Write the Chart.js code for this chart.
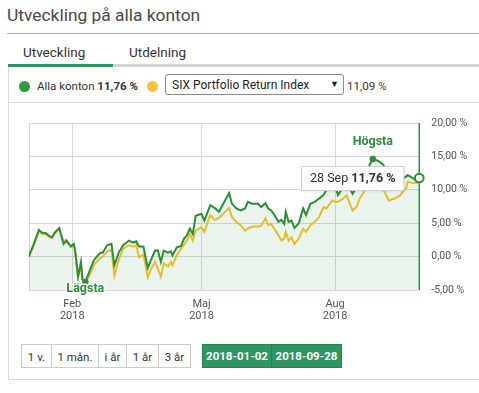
<!DOCTYPE html>
<html><head><meta charset="utf-8">
<script src="https://cdn.jsdelivr.net/npm/chart.js@4.4.1/dist/chart.umd.min.js"></script>
<style>
body{margin:0;width:479px;height:393px;overflow:hidden;background:#fff;font-family:Roboto,sans-serif;position:relative;color:#333}
.a{position:absolute;white-space:nowrap}
.btn{position:absolute;top:344px;height:24px;line-height:24px;text-align:center;font-size:11.5px;color:#333;box-sizing:border-box;border:1px solid #ccc;background:#fff}
.gbtn{position:absolute;top:344px;height:24px;line-height:23px;text-align:center;font-size:11.5px;font-weight:bold;color:#fff;box-sizing:border-box;border:1px solid #23824f;background:#2f9562}
</style></head><body>
<div class="a" style="left:7px;top:5px;font-size:17.4px;color:#4a4a4a">Utveckling på alla konton</div>
<div class="a" style="left:7px;top:33px;width:472px;height:1px;background:#b0b0b0"></div>
<div class="a" style="left:23px;top:44px;font-size:13.5px;color:#333">Utveckling</div>
<div class="a" style="left:129px;top:44px;font-size:13.5px;color:#333">Utdelning</div>
<div class="a" style="left:8px;top:64px;width:105px;height:3px;background:#2f9562"></div>
<div class="a" style="left:113px;top:64px;width:366px;height:3px;background:#d5d5d5"></div>
<div class="a" style="left:8px;top:67px;width:1px;height:313px;background:#dcdcdc"></div>
<div class="a" style="left:19px;top:81px;width:11px;height:11px;border-radius:50%;background:#2e9a3e"></div>
<div class="a" style="left:37px;top:79px;font-size:11.5px;color:#333">Alla konton <b>11,76 %</b></div>
<div class="a" style="left:147px;top:81px;width:11px;height:11px;border-radius:50%;background:#f2c531"></div>
<div class="a" style="left:165px;top:74px;width:179px;height:21px;box-sizing:border-box;border:1px solid #8a8a8a;border-radius:3px"></div>
<div class="a" style="left:172px;top:78px;font-size:12px;color:#222">SIX Portfolio Return Index</div>
<div class="a" style="left:330px;top:79px;font-size:9px;color:#222">▼</div>
<div class="a" style="left:347px;top:79px;font-size:11.5px;color:#333">11,09 %</div>
<div class="a" style="left:8px;top:102px;width:471px;height:1px;background:#dcdcdc"></div>
<canvas id="c" width="479" height="229" class="a" style="left:0;top:104px"></canvas>
<div class="btn" style="left:21px;width:31px">1 v.</div>
<div class="btn" style="left:51px;width:48px">1 mån.</div>
<div class="btn" style="left:98px;width:29px">i år</div>
<div class="btn" style="left:126px;width:33px">1 år</div>
<div class="btn" style="left:158px;width:33px">3 år</div>
<div class="gbtn" style="left:202px;width:70px">2018-01-02</div>
<div class="gbtn" style="left:271px;width:71px">2018-09-28</div>
<div class="a" style="left:8px;top:379px;width:471px;height:1px;background:#dcdcdc"></div>
<script>
const dates = ['2018-01-02','2018-01-05','2018-01-09','2018-01-11','2018-01-14','2018-01-16','2018-01-18','2018-01-20','2018-01-23','2018-01-26',
'2018-01-28','2018-01-31','2018-02-02','2018-02-03','2018-02-05','2018-02-07','2018-02-08','2018-02-10','2018-02-13','2018-02-16',
'2018-02-20','2018-02-22','2018-02-25','2018-02-28','2018-03-02','2018-03-05','2018-03-08','2018-03-12','2018-03-15','2018-03-17',
'2018-03-19','2018-03-22','2018-03-25','2018-03-27','2018-03-30','2018-04-01','2018-04-03','2018-04-05','2018-04-08','2018-04-10',
'2018-04-11','2018-04-14','2018-04-17','2018-04-19','2018-04-21','2018-04-23','2018-04-25','2018-04-27','2018-05-01','2018-05-03',
'2018-05-07','2018-05-10','2018-05-13','2018-05-16','2018-05-20','2018-05-22','2018-05-25','2018-05-28','2018-05-31','2018-06-02',
'2018-06-05','2018-06-09','2018-06-11','2018-06-14','2018-06-16','2018-06-18','2018-06-20','2018-06-23','2018-06-25','2018-06-27',
'2018-06-28','2018-06-30','2018-07-02','2018-07-04','2018-07-07','2018-07-10','2018-07-12','2018-07-15','2018-07-18','2018-07-21',
'2018-07-24','2018-07-26','2018-07-30','2018-08-01','2018-08-03','2018-08-06','2018-08-09','2018-08-11','2018-08-13','2018-08-16',
'2018-08-18','2018-08-21','2018-08-24','2018-08-27','2018-08-30','2018-09-02','2018-09-04','2018-09-07','2018-09-11','2018-09-15',
'2018-09-17','2018-09-19','2018-09-20','2018-09-24','2018-09-26','2018-09-28'];
const allaKonton = [0.0,1.6,4.0,3.6,3.5,3.1,2.9,3.6,4.3,1.9,
2.4,1.5,1.9,0.9,-3.0,-0.8,-3.4,-3.8,-2.1,-0.5,
0.5,0.6,1.7,1.9,-1.3,0.6,1.7,2.4,2.1,2.3,
1.5,1.5,-1.7,-0.6,0.9,0.9,-0.8,0.9,0.6,0.8,
0.2,1.4,1.6,2.7,3.2,4.2,3.4,6.1,6.4,5.4,
7.7,7.3,6.7,7.9,9.5,7.9,7.2,6.9,7.2,8.2,
7.9,7.9,7.4,8.0,7.2,6.9,6.3,5.2,5.5,4.9,
6.7,5.2,5.4,4.3,5.0,7.2,6.2,7.9,8.2,8.7,
9.2,10.0,10.9,10.6,9.2,10.2,10.7,10.3,9.4,10.4,
11.2,12.2,13.4,14.6,14.4,14.0,13.5,12.8,12.0,11.3,
11.7,12.0,12.2,11.7,11.3,11.76];
const sixIndex = [0.0,1.4,3.7,3.4,3.3,3.0,2.8,3.5,4.2,2.3,
2.5,1.6,1.8,0.7,-3.0,-1.2,-3.4,-3.9,-2.8,-1.2,
-0.3,0.0,0.8,1.0,-2.9,-0.5,1.2,1.7,1.5,1.7,
-0.1,0.3,-3.1,-2.0,-0.8,-1.8,-3.0,-1.0,-1.5,-0.8,
-1.3,0.2,1.2,1.8,2.4,3.4,2.4,3.9,4.4,3.7,
6.2,5.5,5.8,6.4,7.3,5.9,5.2,4.7,3.9,4.2,
4.5,4.5,4.6,5.7,4.7,4.9,4.2,3.2,2.4,2.7,
3.7,2.4,2.9,1.9,2.7,4.2,3.7,4.7,5.2,5.9,
7.4,7.2,8.4,8.2,8.2,8.6,9.2,8.0,6.9,7.5,
8.7,9.7,10.5,10.8,10.9,10.6,9.7,8.4,8.7,9.2,
9.8,10.2,11.2,11.0,11.0,11.09];
const monthTickDates = ['2018-02-01','2018-05-01','2018-08-01'];
const monthTickLabels = [['Feb','2018'],['Maj','2018'],['Aug','2018']];
const yMin = -5, yMax = 20, yStep = 5;
const monthNames = ['Jan','Feb','Mar','Apr','Maj','Jun','Jul','Aug','Sep','Okt','Nov','Dec'];

const GREEN = '#2b8f3a', YELLOW = '#e3bf2e';
const t0 = Date.parse('2018-01-02');
const toDay = d => Math.round((Date.parse(d) - t0) / 86400000);
const days = dates.map(toDay);
const tickDays = monthTickDates.map(toDay);
const fmtPct = v => v.toFixed(2).replace('.', ',') + ' %';

const overlay = {
  id: 'overlay',
  beforeDatasetsDraw(chart) {
    const {ctx, chartArea: a} = chart;
    ctx.save();
    ctx.strokeStyle = '#d4d4d4'; ctx.lineWidth = 1;
    ctx.beginPath(); ctx.moveTo(Math.round(a.left) + 0.5, a.top); ctx.lineTo(Math.round(a.left) + 0.5, a.bottom); ctx.stroke();
    ctx.restore();
  },
  afterDatasetsDraw(chart) {
    const {ctx, chartArea: a} = chart;
    const xs = chart.scales.x, ys = chart.scales.y;
    const n = days.length - 1;
    const px = xs.getPixelForValue(days[n]), py = ys.getPixelForValue(allaKonton[n]);
    ctx.save();
    ctx.strokeStyle = GREEN; ctx.lineWidth = 1.5;
    ctx.beginPath(); ctx.moveTo(px, a.top); ctx.lineTo(px, a.bottom); ctx.stroke();
    let iMin = 0, iMax = 0;
    allaKonton.forEach((v, i) => { if (v < allaKonton[iMin]) iMin = i; if (v > allaKonton[iMax]) iMax = i; });
    const mnx = xs.getPixelForValue(days[iMin]), mny = ys.getPixelForValue(allaKonton[iMin]);
    const mxx = xs.getPixelForValue(days[iMax]), mxy = ys.getPixelForValue(allaKonton[iMax]);
    ctx.fillStyle = GREEN;
    ctx.beginPath(); ctx.arc(mnx, mny, 3.2, 0, Math.PI * 2); ctx.fill();
    ctx.beginPath(); ctx.arc(mxx, mxy, 3.2, 0, Math.PI * 2); ctx.fill();
    ctx.font = 'bold 12.5px Roboto';
    ctx.textAlign = 'center'; ctx.textBaseline = 'middle';
    ctx.lineWidth = 3; ctx.strokeStyle = '#fff'; ctx.lineJoin = 'round';
    ctx.strokeText('Lägsta', mnx, mny + 7); ctx.fillText('Lägsta', mnx, mny + 7);
    ctx.strokeText('Högsta', mxx, mxy - 17); ctx.fillText('Högsta', mxx, mxy - 17);
    const d = new Date(dates[n] + 'T00:00:00');
    const p1 = d.getDate() + ' ' + monthNames[d.getMonth()] + ' ';
    const p2 = fmtPct(allaKonton[n]);
    ctx.font = '12.5px Roboto'; const w1 = ctx.measureText(p1).width;
    ctx.font = 'bold 12.5px Roboto'; const w2 = ctx.measureText(p2).width;
    const bw = w1 + w2 + 17, bh = 24;
    const bx = Math.round(px - 16 - bw) + 0.5, by = Math.round(py - bh / 2) + 0.5;
    ctx.shadowColor = 'rgba(0,0,0,0.12)'; ctx.shadowBlur = 3; ctx.shadowOffsetX = 1; ctx.shadowOffsetY = 1;
    ctx.fillStyle = '#fff'; ctx.fillRect(bx, by, bw, bh);
    ctx.shadowColor = 'transparent';
    ctx.strokeStyle = '#d0d0d0'; ctx.lineWidth = 1; ctx.strokeRect(bx, by, bw, bh);
    ctx.fillStyle = '#333'; ctx.textAlign = 'left';
    ctx.font = '12.5px Roboto'; ctx.fillText(p1, bx + 8.5, by + bh / 2 + 0.5);
    ctx.font = 'bold 12.5px Roboto'; ctx.fillText(p2, bx + 8.5 + w1, by + bh / 2 + 0.5);
    ctx.beginPath(); ctx.arc(px, py, 4.3, 0, Math.PI * 2);
    ctx.fillStyle = '#fff'; ctx.fill(); ctx.strokeStyle = GREEN; ctx.lineWidth = 2; ctx.stroke();
    ctx.restore();
  }
};

new Chart(document.getElementById('c'), {
  type: 'line',
  data: {
    datasets: [
      { label: 'Alla konton', data: days.map((x, i) => ({x, y: allaKonton[i]})), borderColor: GREEN, borderWidth: 2,
        backgroundColor: 'rgba(60,150,80,0.11)', fill: 'start', pointRadius: 0, tension: 0 },
      { label: 'SIX Portfolio Return Index', data: days.map((x, i) => ({x, y: sixIndex[i]})), borderColor: YELLOW, borderWidth: 2,
        fill: false, pointRadius: 0, tension: 0 }
    ]
  },
  options: {
    responsive: false, animation: false, devicePixelRatio: 1,
    layout: { padding: { left: 28.7, top: 19, right: 0, bottom: 0 } },
    plugins: { legend: { display: false }, tooltip: { enabled: false }, filler: { drawTime: 'beforeDatasetsDraw' } },
    scales: {
      x: {
        type: 'linear', min: 0, max: days[days.length - 1],
        afterBuildTicks: s => { s.ticks = tickDays.map(v => ({value: v})); },
        afterFit: s => { s.height = 43; },
        ticks: { autoSkip: false, maxRotation: 0, padding: 8, color: '#555', font: { family: 'Roboto', size: 11, lineHeight: 1.1 },
          callback: v => { const k = tickDays.indexOf(v); return k >= 0 ? monthTickLabels[k] : ''; } },
        grid: { color: '#d8d8d8', drawTicks: false },
        border: { display: false }
      },
      y: {
        position: 'right', min: yMin, max: yMax,
        afterFit: s => { s.width = 59.7; },
        ticks: { stepSize: yStep, padding: 12, color: '#555', font: { family: 'Roboto', size: 10.5 }, callback: v => fmtPct(v) },
        grid: { color: '#d8d8d8', drawTicks: false },
        border: { display: false }
      }
    }
  },
  plugins: [overlay]
});
</script>
</body></html>
